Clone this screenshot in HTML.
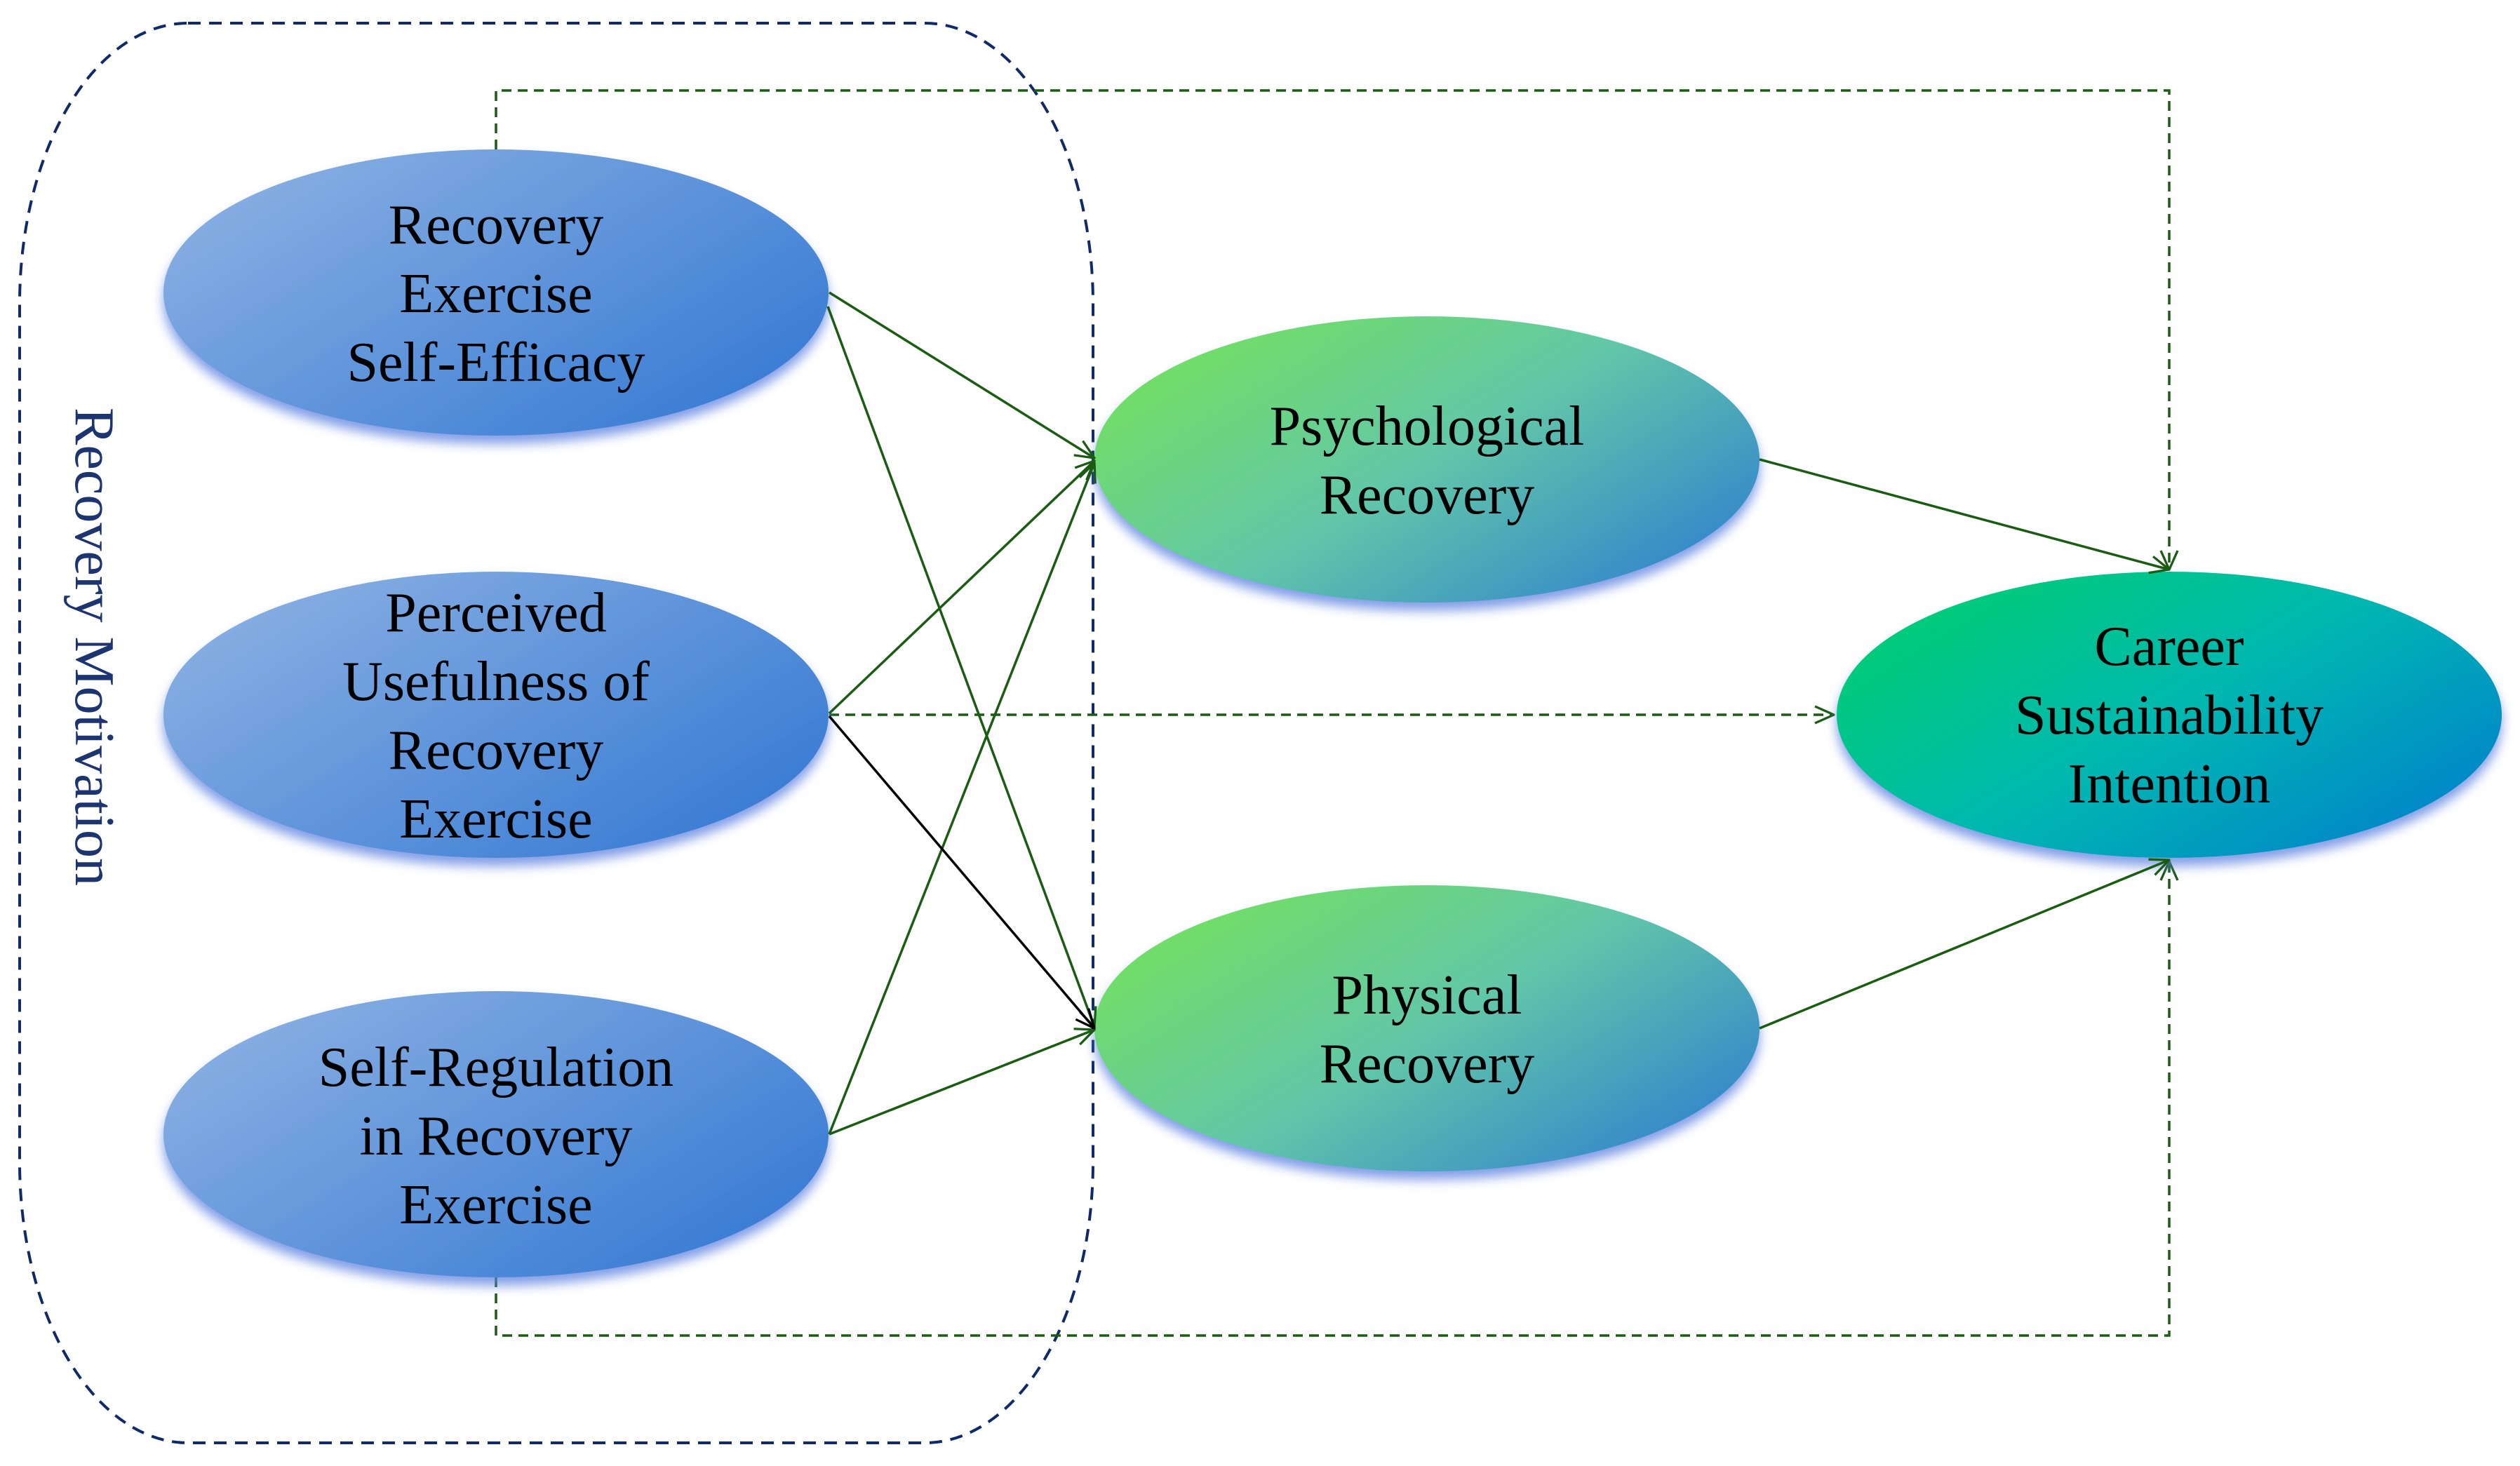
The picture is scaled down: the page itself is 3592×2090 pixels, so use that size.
<!DOCTYPE html>
<html><head><meta charset="utf-8"><style>
html,body{margin:0;padding:0;background:#fff;}
svg{display:block;}
text{font-family:"Liberation Serif",serif;font-size:80px;fill:#000;}
</style></head><body>
<svg width="3592" height="2090" viewBox="0 0 3592 2090" xmlns="http://www.w3.org/2000/svg">
<defs>
<linearGradient id="gb" x1="0" y1="0.15" x2="1" y2="0.85">
<stop offset="0" stop-color="#8cb1e3"/><stop offset="1" stop-color="#3479d3"/></linearGradient>
<linearGradient id="gg" x1="0" y1="0.15" x2="1" y2="0.85">
<stop offset="0" stop-color="#74e25a"/><stop offset="0.5" stop-color="#62c7a8"/><stop offset="1" stop-color="#2f80cf"/></linearGradient>
<linearGradient id="gc" x1="0" y1="0.15" x2="1" y2="0.85">
<stop offset="0" stop-color="#00cf6e"/><stop offset="0.5" stop-color="#00b8b0"/><stop offset="1" stop-color="#0080cc"/></linearGradient>
<filter id="sh" x="-10%" y="-10%" width="120%" height="130%">
<feDropShadow dx="0" dy="12" stdDeviation="8" flood-color="#5a7ee0" flood-opacity="0.75"/></filter>
<marker id="ar" viewBox="0 0 20 20" refX="19" refY="10" markerWidth="30" markerHeight="30" markerUnits="userSpaceOnUse" orient="auto">
<path d="M1 2 L19 10 L1 18" fill="none" stroke="#1a5c12" stroke-width="2.2"/></marker>
<marker id="ark" viewBox="0 0 20 20" refX="19" refY="10" markerWidth="30" markerHeight="30" markerUnits="userSpaceOnUse" orient="auto">
<path d="M1 2 L19 10 L1 18" fill="none" stroke="#000" stroke-width="2.2"/></marker>
</defs>

<rect x="28" y="33" width="1530" height="2024" rx="240" ry="400" fill="none" stroke="#0f2a66" stroke-width="4" stroke-dasharray="18,12"/>
<text transform="translate(108,922) rotate(90)" text-anchor="middle" style="fill:#1c3570">Recovery Motivation</text>

<g fill="none" stroke="#1a5c12" stroke-width="3.5" stroke-dasharray="14,9">
<path d="M707 213 V129 H3092 V812" marker-end="url(#ar)"/>
<path d="M707 1821 V1904 H3092 V1228" marker-end="url(#ar)"/>
<path d="M1182 1019 H2614" marker-end="url(#ar)"/>
</g>

<g filter="url(#sh)">
<ellipse cx="707" cy="417" rx="474" ry="204" fill="url(#gb)"/>
<ellipse cx="707" cy="1019" rx="474" ry="204" fill="url(#gb)"/>
<ellipse cx="707" cy="1617" rx="474" ry="204" fill="url(#gb)"/>
<ellipse cx="2034" cy="655" rx="474" ry="204" fill="url(#gg)"/>
<ellipse cx="2034" cy="1466" rx="474" ry="204" fill="url(#gg)"/>
<ellipse cx="3092" cy="1019" rx="474" ry="204" fill="url(#gc)"/>
</g>

<g fill="none" stroke="#1a5c12" stroke-width="3.5">
<path d="M1182 417 L1560 653" marker-end="url(#ar)"/>
<path d="M1180 437 L1560 1464" marker-end="url(#ar)"/>
<path d="M1182 1017 L1560 657" marker-end="url(#ar)"/>
<path d="M1182 1617 L1560 660" marker-end="url(#ar)"/>
<path d="M1182 1617 L1560 1468" marker-end="url(#ar)"/>
<path d="M2508 655 L3092 812" marker-end="url(#ar)"/>
<path d="M2508 1466 L3092 1226" marker-end="url(#ar)"/>
</g>
<path d="M1182 1021 L1560 1466" fill="none" stroke="#000" stroke-width="3.5" marker-end="url(#ark)"/>

<g text-anchor="middle">
<text x="707" y="347">Recovery</text>
<text x="707" y="445">Exercise</text>
<text x="707" y="543">Self-Efficacy</text>
<text x="707" y="900">Perceived</text>
<text x="707" y="998">Usefulness of</text>
<text x="707" y="1096">Recovery</text>
<text x="707" y="1194">Exercise</text>
<text x="707" y="1548">Self-Regulation</text>
<text x="707" y="1646">in Recovery</text>
<text x="707" y="1744">Exercise</text>
<text x="2034" y="634">Psychological</text>
<text x="2034" y="732">Recovery</text>
<text x="2034" y="1445">Physical</text>
<text x="2034" y="1543">Recovery</text>
<text x="3092" y="948">Career</text>
<text x="3092" y="1046">Sustainability</text>
<text x="3092" y="1144">Intention</text>
</g>
</svg>
</body></html>
